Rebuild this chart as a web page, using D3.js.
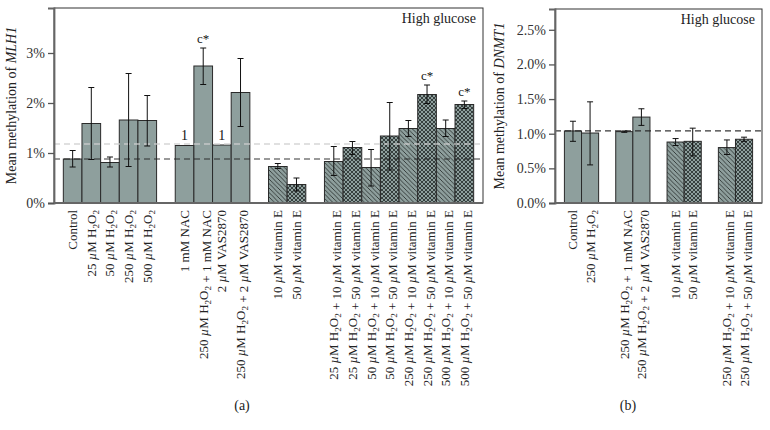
<!DOCTYPE html>
<html><head><meta charset="utf-8">
<script src="https://cdn.jsdelivr.net/npm/d3@7"></script>
<style>body{margin:0;background:#fff}svg{font-family:"Liberation Serif","DejaVu Serif",serif}</style>
</head><body><svg id="c" width="770" height="430"></svg>
<script>
// ---------- Panel (a) data: MLH1 ----------
const aLabels = [
  "Control","25 µM H2O2","50 µM H2O2","250 µM H2O2","500 µM H2O2",
  "1 mM NAC","250 µM H2O2 + 1 mM NAC","2 µM VAS2870","250 µM H2O2 + 2 µM VAS2870",
  "10 µM vitamin E","50 µM vitamin E",
  "25 µM H2O2 + 10 µM vitamin E","25 µM H2O2 + 50 µM vitamin E",
  "50 µM H2O2 + 10 µM vitamin E","50 µM H2O2 + 50 µM vitamin E",
  "250 µM H2O2 + 10 µM vitamin E","250 µM H2O2 + 50 µM vitamin E",
  "500 µM H2O2 + 10 µM vitamin E","500 µM H2O2 + 50 µM vitamin E"];
const aGroupSizes = [5,4,2,8];
const aValues = [0.88,1.59,0.81,1.66,1.65, 1.15,2.74,1.16,2.21, 0.73,0.37, 0.83,1.11,0.71,1.34,1.49,2.17,1.49,1.97];
const aErrLow  = [0.72,0.87,0.72,0.73,1.14, null,2.37,null,1.53, 0.69,0.24, 0.55,0.97,0.34,0.66,1.33,1.99,1.33,1.89];
const aErrHigh = [1.05,2.31,0.92,2.59,2.15, null,3.10,null,2.89, 0.79,0.50, 1.13,1.23,1.07,2.01,1.65,2.36,1.66,2.04];
const aPattern = ["solid","solid","solid","solid","solid","solid","solid","solid","solid",
  "hatch","cross","hatch","cross","hatch","cross","hatch","cross","hatch","cross"];
const aNotes = ["","","","","","1","c*","1","","","","","","","","","c*","","c*"];
const aTicks = [0,1,2,3];
const aRefLines = [0.88, 1.18];

// ---------- Panel (b) data: DNMT1 ----------
const bLabels = ["Control","250 µM H2O2",
  "250 µM H2O2 + 1 mM NAC","250 µM H2O2 + 2 µM VAS2870",
  "10 µM vitamin E","50 µM vitamin E",
  "250 µM H2O2 + 10 µM vitamin E","250 µM H2O2 + 50 µM vitamin E"];
const bGroupSizes = [2,2,2,2];
const bValues  = [1.04,1.01,1.03,1.24,0.88,0.89,0.80,0.92];
const bErrLow  = [0.89,0.55,1.02,1.12,0.83,0.68,0.70,0.89];
const bErrHigh = [1.18,1.46,1.04,1.36,0.93,1.08,0.91,0.95];
const bPattern = ["solid","solid","solid","solid","hatch","cross","hatch","cross"];
const bTicks = [0,0.5,1.0,1.5,2.0,2.5];
const bRefLines = [1.04];

const FILL = "#8e9f9d", EDGE = "#2a2a2a";
const svg = d3.select("#c");
const defs = svg.append("defs");
const ph = defs.append("pattern").attr("id","hatch").attr("patternUnits","userSpaceOnUse")
  .attr("width",4.5).attr("height",4.5);
ph.append("rect").attr("width",4.5).attr("height",4.5).attr("fill",FILL);
ph.append("path").attr("d","M-1,-1 L5.5,5.5 M-1,3.5 L1,5.5 M3.5,-1 L5.5,1").attr("stroke","#2d3433").attr("stroke-width",0.9);
const pc = defs.append("pattern").attr("id","cross").attr("patternUnits","userSpaceOnUse")
  .attr("width",4).attr("height",4);
pc.append("rect").attr("width",4).attr("height",4).attr("fill",FILL);
pc.append("path").attr("d","M0,0 L4,4 M4,0 L0,4").attr("stroke","#2d3433").attr("stroke-width",0.9);

function rich(textSel, str, size){
  const parts = str.split(/(µ|H2O2)/);
  parts.forEach(p=>{
    if(!p) return;
    if(p==="µ"){ textSel.append("tspan").attr("font-style","italic").text("µ"); }
    else if(p==="H2O2"){
      textSel.append("tspan").text("H");
      textSel.append("tspan").attr("font-size",size*0.7).attr("dy",3).text("2");
      textSel.append("tspan").attr("dy",-3).text("O");
      textSel.append("tspan").attr("font-size",size*0.7).attr("dy",3).text("2");
      textSel.append("tspan").attr("dy",-3).text("");
    } else textSel.append("tspan").text(p);
  });
}

function slotsFor(groupSizes){
  const s=[]; let k=0;
  groupSizes.forEach(g=>{ for(let i=0;i<g;i++) s.push(k++); k++; });
  return {slots:s, total:k-1};
}

function panel(o){
  const g = svg.append("g");
  const {slots,total} = slotsFor(o.groups);
  const x = d3.scaleBand().domain(d3.range(total)).range([o.x0,o.x1]).paddingInner(0).paddingOuter(o.pad);
  const y = d3.scaleLinear().domain([0,o.ymax]).range([o.y1,o.y0]);
  const data = o.values.map((v,i)=>({v,i,slot:slots[i],lo:o.lo[i],hi:o.hi[i],p:o.pat[i],lab:o.labels[i],note:o.notes?o.notes[i]:""}));
  g.selectAll("rect.bar").data(data).join("rect").attr("class","bar")
    .attr("x",d=>x(d.slot)).attr("width",x.bandwidth())
    .attr("y",d=>y(d.v)).attr("height",d=>y(0)-y(d.v))
    .attr("fill",d=>d.p==="solid"?FILL:`url(#${d.p})`)
    .attr("stroke",EDGE).attr("stroke-width",1);
  o.refs.forEach((r,i)=>{
    g.append("line").attr("x1",o.x0).attr("x2",o.x1).attr("y1",y(r)).attr("y2",y(r))
      .attr("stroke", i===0?"#222":"#d0d0d0").attr("stroke-width",i===0?1.2:1.6)
      .attr("stroke-dasharray","6,4").attr("opacity",i===0?0.9:0.85);
  });
  const eb = data.filter(d=>d.lo!=null);
  const cx = d=>x(d.slot)+x.bandwidth()/2;
  g.selectAll("line.eb").data(eb).join("line").attr("x1",cx).attr("x2",cx)
    .attr("y1",d=>y(d.lo)).attr("y2",d=>y(d.hi)).attr("stroke","#111").attr("stroke-width",1);
  ["lo","hi"].forEach(k=>{
    g.selectAll("line.cap"+k).data(eb).join("line").attr("x1",d=>cx(d)-3).attr("x2",d=>cx(d)+3)
      .attr("y1",d=>y(d[k])).attr("y2",d=>y(d[k])).attr("stroke","#111").attr("stroke-width",1);
  });
  g.selectAll("text.note").data(data.filter(d=>d.note)).join("text")
    .attr("transform",d=>`translate(${cx(d)},${y(d.hi!=null?d.hi:d.v)-5}) rotate(0.01)`)
    .attr("text-anchor","middle").attr("opacity",0.99)
    .attr("font-size",d=>d.note==="1"?14:13).attr("fill","#111").text(d=>d.note);
  g.append("rect").attr("x",o.x0).attr("y",o.y0).attr("width",o.x1-o.x0).attr("height",o.y1-o.y0)
    .attr("fill","none").attr("stroke","#333").attr("stroke-width",1);
  const ya = g.append("g").attr("transform",`translate(${o.x0},0)`)
    .call(d3.axisLeft(y).tickValues(o.ticks).tickFormat(o.fmt).tickSize(6).tickPadding(3));
  ya.select(".domain").attr("stroke","#666").attr("stroke-width",1.8);
  ya.selectAll(".tick line").attr("stroke","#555").attr("stroke-width",1.3);
  ya.selectAll(".tick text").attr("font-family","Liberation Serif, serif").attr("font-size",14).attr("fill","#333");
  g.append("line").attr("x1",o.x0).attr("x2",o.x1).attr("y1",o.y1).attr("y2",o.y1).attr("stroke","#666").attr("stroke-width",1.8);
  const t = g.append("text").attr("transform",`translate(${o.titleX},${(o.y0+o.y1)/2}) rotate(-90)`)
    .attr("text-anchor","middle").attr("font-size",14).attr("fill","#222");
  t.append("tspan").text("Mean methylation of ");
  t.append("tspan").attr("font-style","italic").text(o.gene);
  data.forEach(d=>{
    const tx = g.append("text").attr("transform",`translate(${cx(d)+4.5},${o.y1+7}) rotate(-90)`)
      .attr("text-anchor","end").attr("font-size",13).attr("fill","#222");
    rich(tx,d.lab,13);
  });
  g.append("text").attr("x",o.x1-7).attr("y",o.y0+15).attr("text-anchor","end")
    .attr("font-size",14).attr("fill","#222").text("High glucose");
  g.append("text").attr("x",o.capX).attr("y",410).attr("text-anchor","middle")
    .attr("font-size",14).attr("fill","#222").text(o.cap);
}

panel({x0:54,x1:483,y0:8,y1:203,pad:0.5,ymax:3.9,groups:aGroupSizes,values:aValues,lo:aErrLow,hi:aErrHigh,
  pat:aPattern,labels:aLabels,notes:aNotes,ticks:aTicks,fmt:d=>d+"%",refs:aRefLines,gene:"MLH1",titleX:16,capX:242,cap:"(a)"});
panel({x0:555,x1:762,y0:9,y1:203,pad:0.55,ymax:2.8,groups:bGroupSizes,values:bValues,lo:bErrLow,hi:bErrHigh,
  pat:bPattern,labels:bLabels,notes:null,ticks:bTicks,fmt:d=>d.toFixed(1)+"%",refs:bRefLines,gene:"DNMT1",titleX:504,capX:628,cap:"(b)"});
</script></body></html>
